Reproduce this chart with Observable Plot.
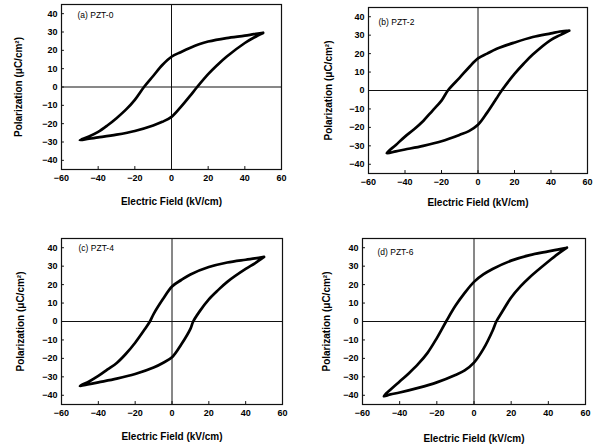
<!DOCTYPE html>
<html>
<head>
<meta charset="utf-8">
<script src="https://cdn.jsdelivr.net/npm/d3@7"></script>
<script src="https://cdn.jsdelivr.net/npm/@observablehq/plot@0.6"></script>
<style>
  html, body { margin: 0; padding: 0; background: #fff; }
  #wrap { position: relative; width: 595px; height: 446px; background: #fff; overflow: hidden; }
  .panel { position: absolute; }
</style>
</head>
<body>
<div id="wrap"></div>
<script>
// ---- shared ticks ----
const xTicks = [-60, -40, -20, 0, 20, 40, 60];
const yTicks = [-40, -30, -20, -10, 0, 10, 20, 30, 40];
const xTitle = "Electric Field (kV/cm)";
const yTitle = "Polarization (\u03bcC/cm\u00b2)";

// ---- panel labels ----
const panelLabels = ["(a) PZT-0", "(b) PZT-2", "(c) PZT-4", "(d) PZT-6"];

// ---- (a) PZT-0 ----
const aUpperE = [50, 45, 40, 30, 20, 15, 10, 5, 0, -5, -10, -15, -20, -25, -30, -35, -40, -45, -50];
const aUpperP = [29.5, 28.8, 28, 26.7, 24.8, 23.3, 21.3, 19, 16.5, 12, 6, 0, -7, -12.5, -17, -21, -24.5, -27, -29];
const aLowerE = [-45, -40, -30, -20, -10, -5, 0, 5, 10, 14, 20, 25, 30, 40, 45];
const aLowerP = [-28.2, -27.5, -26, -24, -21, -19, -16.3, -11, -5, 0, 7, 12, 16.5, 24, 27];

// ---- (b) PZT-2 ----
const bUpperE = [50, 45, 40, 30, 20, 10, 5, 0, -5, -10, -16.5, -20, -25, -30, -35, -40, -45, -50];
const bUpperP = [32.5, 32, 31, 29, 26, 22.5, 20, 17.4, 12.5, 7, 0, -5.5, -11, -16.5, -21, -25, -29.5, -34];
const bLowerE = [-45, -40, -30, -20, -10, -5, 0, 5, 10, 13, 20, 25, 30, 40, 45];
const bLowerP = [-33, -32, -30, -27.5, -24, -22, -18.6, -12, -4.5, 0, 9, 14.5, 19.5, 27.5, 30];

// ---- (c) PZT-4 ----
const cUpperE = [50, 45, 40, 30, 20, 10, 5, 0, -5, -10, -12, -15, -20, -25, -30, -35, -40, -45, -50];
const cUpperP = [35, 34.2, 33.5, 32, 29.5, 25.5, 22.5, 19, 12, 4, 0, -4.5, -11.5, -17.5, -22.5, -26, -29.5, -32.5, -35];
const cLowerE = [-45, -40, -30, -20, -10, -5, 0, 5, 10, 11.5, 15, 20, 25, 30, 40, 45];
const cLowerP = [-34, -33, -31, -28.5, -25, -22.5, -19.4, -12.5, -4, 0, 5.5, 12, 17, 21.5, 28.5, 31.5];

// ---- (d) PZT-6 ----
const dUpperE = [50, 45, 40, 30, 20, 10, 5, 0, -5, -10, -15, -20, -25, -30, -35, -40, -45, -48.5];
const dUpperP = [40, 39, 38, 36, 33, 28.5, 25.5, 21.5, 15.5, 8.5, 0, -9, -17, -23, -28, -32.5, -37, -40.5];
const dLowerE = [-45, -40, -30, -20, -10, -5, 0, 5, 10, 12, 15, 20, 25, 30, 40, 45];
const dLowerP = [-39.5, -38.5, -36, -33, -29, -26.5, -22.3, -15, -5, 0, 5, 13, 19, 24, 32.5, 36.5];

function loop(uE, uP, lE, lP) {
  const pts = uE.map((e, i) => ({E: e, P: uP[i]}));
  lE.forEach((e, i) => pts.push({E: e, P: lP[i]}));
  pts.push({E: uE[0], P: uP[0]});
  return pts;
}

const panels = [
  {data: loop(aUpperE, aUpperP, aLowerE, aLowerP), label: panelLabels[0],
   left: 0, top: 0, width: 297, height: 223, m: [4, 16, 54, 61], lab: [16, 11], xt: 32, yt: -43},
  {data: loop(bUpperE, bUpperP, bLowerE, bLowerP), label: panelLabels[1],
   left: 297, top: 0, width: 298, height: 223, m: [7, 8, 50, 71], lab: [10, 15], xt: 29, yt: -40},
  {data: loop(cUpperE, cUpperP, cLowerE, cLowerP), label: panelLabels[2],
   left: 0, top: 223, width: 297, height: 223, m: [15, 15, 42, 61], lab: [17, 10], xt: 32, yt: -41},
  {data: loop(dUpperE, dUpperP, dLowerE, dLowerP), label: panelLabels[3],
   left: 297, top: 223, width: 298, height: 223, m: [15, 10, 42, 65], lab: [15, 14], xt: 34, yt: -36}
];

const wrap = document.getElementById("wrap");
const FONT = "'Liberation Sans', Arial, Helvetica, sans-serif";

for (const p of panels) {
  const [mt, mr, mb, ml] = p.m;
  const chart = Plot.plot({
    width: p.width,
    height: p.height,
    marginTop: mt, marginRight: mr, marginBottom: mb, marginLeft: ml,
    style: {fontFamily: FONT, fontSize: "9px", color: "#000", background: "transparent", overflow: "visible"},
    x: {domain: [-60, 60]},
    y: {domain: [-45, 45]},
    marks: [
      Plot.ruleX([0], {stroke: "#111", strokeWidth: 1}),
      Plot.ruleY([0], {stroke: "#111", strokeWidth: 1}),
      Plot.ruleX(xTicks, {x: d => d, y1: -45, y2: -43.4, stroke: "#111"}),
      Plot.ruleY(yTicks, {y: d => d, x1: -60, x2: -58.4, stroke: "#111"}),
      Plot.frame({stroke: "#111", strokeWidth: 1.2}),
      Plot.line(p.data, {x: "E", y: "P", stroke: "#000", strokeWidth: 2.7, curve: "catmull-rom"}),
      Plot.axisX(xTicks, {anchor: "bottom", tickSize: 0, tickPadding: 5, label: null, fontWeight: "bold", fontSize: 9}),
      Plot.axisY(yTicks, {anchor: "left", tickSize: 0, tickPadding: 4, label: null, fontWeight: "bold", fontSize: 9}),
      Plot.text([p.label], {text: d => d, frameAnchor: "top-left", dx: p.lab[0], dy: p.lab[1], textAnchor: "start", lineAnchor: "middle", fontSize: 8.5, fill: "#000"}),
      Plot.text([xTitle], {text: d => d, frameAnchor: "bottom", dy: p.xt, textAnchor: "middle", lineAnchor: "middle", fontSize: 10, fontWeight: "bold", fill: "#000"}),
      Plot.text([yTitle], {text: d => d, frameAnchor: "left", dx: p.yt, rotate: -90, textAnchor: "middle", lineAnchor: "middle", fontSize: 10, fontWeight: "bold", fill: "#000"})
    ]
  });
  const div = document.createElement("div");
  div.className = "panel";
  div.style.left = p.left + "px";
  div.style.top = p.top + "px";
  div.appendChild(chart);
  wrap.appendChild(div);
}
</script>
</body>
</html>
